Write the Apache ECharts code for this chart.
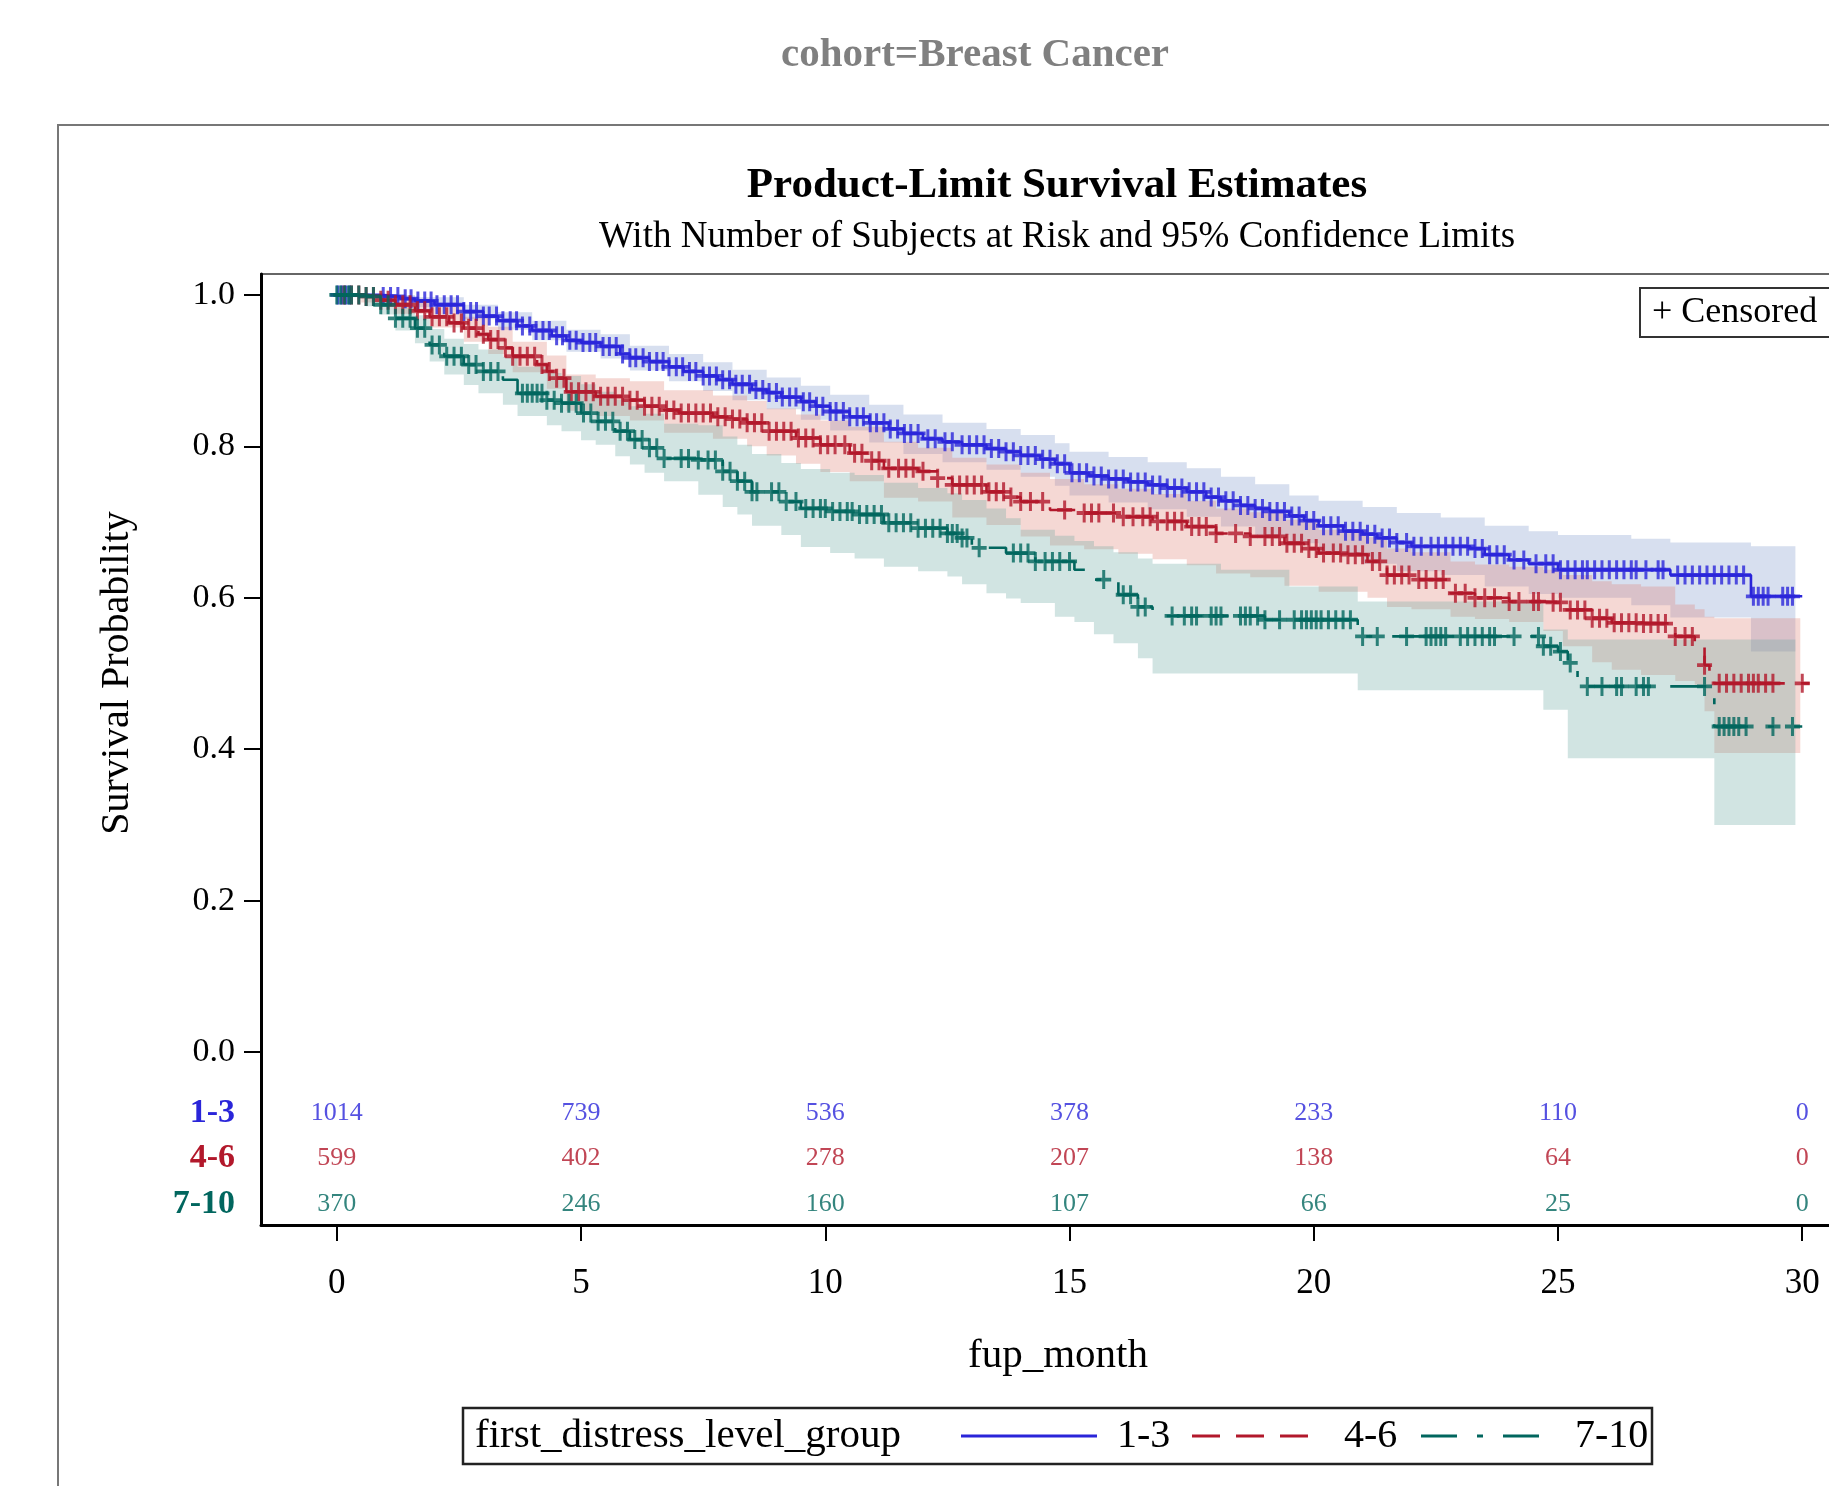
<!DOCTYPE html>
<html>
<head>
<meta charset="utf-8">
<title>Product-Limit Survival Estimates</title>
<script src="https://cdn.jsdelivr.net/npm/echarts@6/dist/echarts.min.js"></script>
<style>
  html, body { margin: 0; padding: 0; background: #fff; }
  #chart { width: 1829px; height: 1486px; }
</style>
</head>
<body>
<div id="chart"></div>
<script>
// groups and axis ticks
const groups = ['1-3', '4-6', '7-10']
const xTicks = [0, 5, 10, 15, 20, 25, 30]
const yTicks = [0, 0.2, 0.4, 0.6, 0.8, 1.0]

// number of subjects at risk at each x tick
const atRisk13 = [1014, 739, 536, 378, 233, 110, 0]
const atRisk46 = [599, 402, 278, 207, 138, 64, 0]
const atRisk710 = [370, 246, 160, 107, 66, 25, 0]

// product-limit estimates: [month, survival]
const surv13 = [
  [0, 1.0], [0.9, 0.998], [1.3, 0.995], [1.6, 0.992], [2.0, 0.987], [2.6, 0.978], [3.0, 0.972],
  [3.3, 0.966], [3.7, 0.959], [4.0, 0.953], [4.4, 0.946], [4.7, 0.94], [5.0, 0.937], [5.4, 0.932],
  [5.8, 0.922], [6.0, 0.917], [6.4, 0.912], [6.8, 0.905], [7.1, 0.899], [7.5, 0.893], [7.8, 0.888],
  [8.1, 0.882], [8.5, 0.875], [8.8, 0.871], [9.1, 0.865], [9.5, 0.859], [9.8, 0.853], [10.1, 0.846],
  [10.5, 0.839], [10.9, 0.831], [11.3, 0.823], [11.6, 0.817], [12.0, 0.81], [12.4, 0.806],
  [12.8, 0.802], [13.3, 0.797], [13.7, 0.793], [14.0, 0.788], [14.4, 0.783], [14.7, 0.777],
  [15.0, 0.765], [15.4, 0.761], [15.8, 0.757], [16.2, 0.753], [16.6, 0.749], [17.0, 0.745],
  [17.4, 0.74], [17.8, 0.733], [18.1, 0.728], [18.5, 0.722], [18.8, 0.718], [19.1, 0.714],
  [19.5, 0.708], [19.8, 0.702], [20.1, 0.695], [20.6, 0.688], [21.0, 0.684], [21.3, 0.679],
  [21.7, 0.673], [22.0, 0.668], [23.2, 0.665], [23.5, 0.657], [24.0, 0.65], [24.4, 0.645],
  [25.0, 0.637], [27.3, 0.63], [28.95, 0.602], [30.0, 0.602]
]
const surv46 = [
  [0, 1.0], [0.5, 0.998], [0.9, 0.993], [1.2, 0.987], [1.6, 0.979], [1.9, 0.971], [2.3, 0.963],
  [2.6, 0.956], [2.9, 0.948], [3.1, 0.941], [3.4, 0.93], [3.6, 0.919], [4.1, 0.908], [4.3, 0.899],
  [4.5, 0.89], [4.7, 0.872], [5.3, 0.866], [6.0, 0.861], [6.3, 0.853], [6.7, 0.848], [7.0, 0.844],
  [7.7, 0.839], [8.0, 0.836], [8.4, 0.831], [8.8, 0.82], [9.4, 0.811], [9.9, 0.802], [10.5, 0.791],
  [10.9, 0.781], [11.2, 0.771], [11.9, 0.767], [12.3, 0.758], [12.6, 0.749], [13.3, 0.74],
  [13.7, 0.733], [14.0, 0.727], [14.6, 0.716], [15.3, 0.712], [16.0, 0.707], [16.7, 0.701],
  [17.4, 0.694], [18.0, 0.685], [18.7, 0.681], [19.4, 0.672], [19.8, 0.665], [20.1, 0.659],
  [20.6, 0.657], [21.1, 0.648], [21.5, 0.63], [22.0, 0.624], [22.8, 0.606], [23.3, 0.6],
  [24.0, 0.595], [24.7, 0.594], [25.1, 0.584], [25.7, 0.573], [26.1, 0.567], [26.7, 0.566],
  [27.4, 0.549], [27.8, 0.542], [28.0, 0.511], [28.1, 0.503], [28.2, 0.487], [30.15, 0.487]
]
const surv710 = [
  [0, 1.0], [0.6, 0.998], [0.9, 0.987], [1.2, 0.969], [1.6, 0.956], [1.9, 0.934], [2.2, 0.919],
  [2.6, 0.908], [2.9, 0.899], [3.4, 0.888], [3.7, 0.87], [4.3, 0.861], [4.6, 0.857], [5.0, 0.844],
  [5.3, 0.833], [5.7, 0.82], [6.0, 0.809], [6.3, 0.798], [6.7, 0.784], [7.4, 0.782], [7.9, 0.767],
  [8.2, 0.754], [8.5, 0.74], [9.1, 0.727], [9.5, 0.718], [10.1, 0.714], [10.6, 0.71], [11.2, 0.699],
  [11.9, 0.692], [12.5, 0.685], [12.8, 0.679], [13.0, 0.666], [13.7, 0.659], [14.3, 0.648],
  [15.1, 0.637], [15.5, 0.624], [16.0, 0.604], [16.4, 0.588], [16.7, 0.576], [19.0, 0.571],
  [20.9, 0.549], [24.7, 0.536], [25.0, 0.529], [25.2, 0.514], [25.3, 0.505], [25.4, 0.483],
  [28.2, 0.43], [30.0, 0.43]
]

// 95% confidence limits: [month, lower, upper]
const band13 = [
  [0, 0.997, 1.0], [0.9, 0.993, 1.0], [1.6, 0.984, 0.997], [2.6, 0.968, 0.987], [3.3, 0.954, 0.977],
  [4.0, 0.94, 0.966], [4.7, 0.925, 0.954], [5.4, 0.916, 0.948], [6.0, 0.9, 0.933], [6.8, 0.886, 0.922],
  [7.5, 0.873, 0.911], [8.1, 0.861, 0.901], [8.8, 0.849, 0.891], [9.5, 0.835, 0.88], [10.1, 0.821, 0.868],
  [10.9, 0.805, 0.855], [11.6, 0.79, 0.842], [12.4, 0.779, 0.831], [13.3, 0.769, 0.823],
  [14.0, 0.76, 0.815], [14.7, 0.748, 0.804], [15.0, 0.735, 0.793], [15.8, 0.726, 0.786],
  [16.6, 0.717, 0.779], [17.4, 0.707, 0.771], [18.1, 0.694, 0.76], [18.8, 0.683, 0.75],
  [19.5, 0.672, 0.735], [20.1, 0.658, 0.728], [21.0, 0.645, 0.72], [21.7, 0.635, 0.712],
  [22.6, 0.63, 0.706], [23.5, 0.615, 0.695], [24.4, 0.605, 0.688], [25.0, 0.6, 0.683],
  [26.5, 0.59, 0.678], [27.3, 0.574, 0.673], [28.95, 0.529, 0.668], [29.86, 0.529, 0.668]
]
const band46 = [
  [0, 1.0, 1.0], [0.5, 0.99, 1.0], [1.2, 0.975, 0.995], [1.9, 0.957, 0.984], [2.6, 0.938, 0.971],
  [3.1, 0.922, 0.958], [3.6, 0.898, 0.938], [4.3, 0.876, 0.92], [4.7, 0.847, 0.895], [5.3, 0.84, 0.89],
  [6.0, 0.834, 0.886], [6.7, 0.818, 0.874], [7.7, 0.81, 0.867], [8.4, 0.8, 0.86], [8.8, 0.788, 0.85],
  [9.4, 0.777, 0.842], [9.9, 0.766, 0.834], [10.5, 0.754, 0.826], [11.2, 0.732, 0.806],
  [11.9, 0.727, 0.798], [12.6, 0.706, 0.785], [13.3, 0.696, 0.776], [14.0, 0.681, 0.765],
  [14.6, 0.669, 0.757], [15.3, 0.664, 0.75], [16.0, 0.658, 0.744], [16.7, 0.651, 0.737],
  [17.4, 0.643, 0.728], [18.0, 0.632, 0.718], [18.7, 0.627, 0.713], [19.4, 0.616, 0.703],
  [20.1, 0.608, 0.69], [21.1, 0.6, 0.68], [21.5, 0.588, 0.665], [22.0, 0.585, 0.66],
  [22.8, 0.575, 0.648], [23.3, 0.572, 0.644], [24.0, 0.568, 0.641], [24.7, 0.556, 0.637],
  [25.1, 0.536, 0.63], [25.7, 0.515, 0.622], [26.1, 0.505, 0.618], [26.7, 0.498, 0.615],
  [27.4, 0.49, 0.591], [27.8, 0.485, 0.585], [28.0, 0.45, 0.575], [28.2, 0.395, 0.573],
  [29.96, 0.395, 0.573]
]
const band710 = [
  [0, 1.0, 1.0], [0.6, 0.985, 1.0], [0.9, 0.974, 0.997], [1.2, 0.953, 0.985], [1.6, 0.936, 0.973],
  [1.9, 0.912, 0.955], [2.2, 0.895, 0.942], [2.6, 0.881, 0.935], [2.9, 0.87, 0.928], [3.4, 0.855, 0.918],
  [3.7, 0.84, 0.905], [4.3, 0.828, 0.897], [4.6, 0.82, 0.893], [5.0, 0.808, 0.882], [5.3, 0.802, 0.872],
  [5.7, 0.787, 0.862], [6.0, 0.776, 0.853], [6.3, 0.765, 0.843], [6.7, 0.754, 0.83], [7.4, 0.736, 0.828],
  [7.9, 0.72, 0.813], [8.2, 0.71, 0.802], [8.5, 0.695, 0.79], [9.1, 0.683, 0.778], [9.5, 0.667, 0.77],
  [10.1, 0.659, 0.765], [10.6, 0.652, 0.762], [11.2, 0.641, 0.752], [11.9, 0.635, 0.745],
  [12.5, 0.628, 0.738], [12.8, 0.618, 0.729], [13.3, 0.606, 0.718], [13.7, 0.599, 0.705],
  [14.0, 0.593, 0.69], [14.7, 0.575, 0.682], [15.1, 0.568, 0.675], [15.5, 0.552, 0.668],
  [15.9, 0.54, 0.66], [16.4, 0.52, 0.652], [16.7, 0.5, 0.645], [18.1, 0.5, 0.637], [19.5, 0.5, 0.615],
  [20.9, 0.478, 0.595], [24.7, 0.452, 0.558], [25.2, 0.388, 0.545], [28.2, 0.3, 0.545],
  [29.86, 0.3, 0.545]
]

// censoring times (months)
const cens13 = [
  0.02, 0.1, 0.18, 0.26, 0.95, 1.1, 1.25, 1.4, 1.52, 1.66, 1.8, 1.93, 2.05, 2.2, 2.34, 2.47, 2.6,
  2.74, 2.86, 3.0, 3.12, 3.27, 3.4, 3.55, 3.68, 3.8, 3.95, 4.08, 4.22, 4.35, 4.5, 4.62, 4.77, 4.9,
  5.04, 5.18, 5.3, 5.45, 5.58, 5.72, 5.85, 6.0, 6.12, 6.27, 6.4, 6.55, 6.68, 6.8, 6.95, 7.08, 7.22,
  7.35, 7.5, 7.63, 7.77, 7.9, 8.04, 8.17, 8.3, 8.45, 8.58, 8.72, 8.85, 9.0, 9.12, 9.27, 9.4, 9.55,
  9.68, 9.82, 9.95, 10.1, 10.22, 10.37, 10.5, 10.65, 10.78, 10.92, 11.05, 11.2, 11.33, 11.48,
  11.62, 11.75, 11.9, 12.1, 12.25, 12.45, 12.6, 12.8, 12.95, 13.1, 13.25, 13.4, 13.55, 13.7,
  13.85, 14.0, 14.15, 14.3, 14.45, 14.6, 14.75, 14.9, 15.05, 15.2, 15.35, 15.5, 15.65, 15.8,
  15.95, 16.1, 16.25, 16.4, 16.55, 16.7, 16.85, 17.0, 17.15, 17.3, 17.45, 17.6, 17.75, 17.9,
  18.05, 18.2, 18.35, 18.5, 18.65, 18.8, 18.95, 19.1, 19.25, 19.4, 19.55, 19.7, 19.85, 20.0,
  20.2, 20.35, 20.5, 20.65, 20.8, 20.95, 21.1, 21.25, 21.4, 21.55, 21.7, 21.9, 22.05, 22.2, 22.4,
  22.55, 22.7, 22.85, 23.0, 23.15, 23.3, 23.45, 23.6, 23.75, 23.9, 24.1, 24.3, 24.55, 24.75,
  24.9, 25.05, 25.2, 25.35, 25.5, 25.6, 25.75, 25.9, 26.05, 26.2, 26.35, 26.5, 26.6, 26.8, 27.05,
  27.15, 27.45, 27.6, 27.75, 27.9, 28.05, 28.2, 28.35, 28.5, 28.65, 28.8, 29.0, 29.1, 29.2, 29.3,
  29.6, 29.7, 29.8
]
const cens46 = [
  0.15, 0.3, 0.45, 0.6, 0.75, 0.9, 1.05, 1.2, 1.35, 1.5, 1.65, 1.8, 1.95, 2.1, 2.25, 2.4, 2.55,
  2.7, 2.85, 3.0, 3.15, 3.3, 3.45, 3.6, 3.75, 3.9, 4.05, 4.2, 4.35, 4.5, 4.65, 4.8, 4.95, 5.1,
  5.25, 5.4, 5.55, 5.7, 5.85, 6.0, 6.15, 6.3, 6.45, 6.6, 6.75, 6.9, 7.05, 7.2, 7.35, 7.5, 7.65,
  7.8, 7.95, 8.1, 8.25, 8.4, 8.55, 8.7, 8.85, 9.0, 9.15, 9.3, 9.45, 9.6, 9.75, 9.9, 10.05, 10.2,
  10.4, 10.6, 10.75, 10.95, 11.1, 11.3, 11.5, 11.65, 11.8, 12.0, 12.3, 12.6, 12.75, 12.9, 13.05,
  13.2, 13.35, 13.5, 13.65, 13.8, 14.0, 14.2, 14.45, 14.9, 15.3, 15.45, 15.6, 15.9, 16.1, 16.3,
  16.5, 16.65, 16.8, 17.0, 17.15, 17.3, 17.5, 17.65, 17.8, 18.0, 18.4, 18.7, 19.0, 19.15, 19.3,
  19.45, 19.6, 19.75, 19.9, 20.05, 20.2, 20.4, 20.55, 20.7, 20.85, 21.0, 21.2, 21.35, 21.5,
  21.65, 21.8, 21.95, 22.15, 22.3, 22.5, 22.65, 22.9, 23.1, 23.3, 23.5, 23.7, 24.0, 24.2, 24.5,
  24.6, 24.9, 25.05, 25.25, 25.4, 25.55, 25.7, 25.85, 26.0, 26.15, 26.3, 26.45, 26.6, 26.75,
  26.9, 27.05, 27.2, 27.4, 27.6, 27.75, 28.0, 28.3, 28.45, 28.6, 28.75, 28.9, 29.0, 29.1, 29.25,
  29.4, 30.0
]
const cens710 = [
  0.0, 0.08, 0.16, 0.24, 0.3, 0.45, 0.6, 0.75, 0.9, 1.05, 1.2, 1.35, 1.5, 1.65, 1.8, 1.95, 2.1,
  2.25, 2.4, 2.55, 2.7, 2.85, 3.0, 3.15, 3.3, 3.8, 3.9, 4.0, 4.1, 4.2, 4.3, 4.45, 4.6, 4.75, 4.9,
  5.05, 5.2, 5.35, 5.5, 5.65, 5.8, 5.95, 6.1, 6.25, 6.4, 6.55, 6.7, 7.05, 7.2, 7.4, 7.6, 7.75,
  7.9, 8.05, 8.2, 8.35, 8.5, 8.6, 8.9, 9.05, 9.2, 9.4, 9.6, 9.75, 9.9, 10.0, 10.15, 10.3, 10.45,
  10.55, 10.7, 10.85, 11.0, 11.15, 11.3, 11.45, 11.6, 11.75, 11.9, 12.05, 12.2, 12.35, 12.5,
  12.6, 12.7, 12.8, 12.9, 13.15, 13.85, 14.0, 14.15, 14.3, 14.5, 14.65, 14.8, 15.0, 15.7, 16.1,
  16.25, 16.4, 16.55, 17.1, 17.35, 17.5, 17.6, 17.9, 18.0, 18.1, 18.5, 18.6, 18.7, 18.85, 19.0,
  19.3, 19.6, 19.75, 19.85, 19.95, 20.05, 20.15, 20.3, 20.45, 20.6, 20.75, 21.0, 21.3, 21.9,
  22.3, 22.4, 22.5, 22.6, 22.7, 23.0, 23.15, 23.3, 23.45, 23.6, 23.7, 24.1, 24.6, 24.7, 24.85,
  25.05, 25.25, 25.6, 25.9, 26.2, 26.3, 26.6, 26.75, 26.85, 28.0, 28.3, 28.4, 28.5, 28.6, 28.7,
  28.85, 29.4, 29.8
]

const lineColors = ['#2A25D9', '#B2182B', '#01665E']
const bandColors = ['rgba(124,149,202,0.3)', 'rgba(222,126,111,0.3)', 'rgba(102,165,160,0.3)']
const dashes = ['solid', [28, 16], [36, 20, 6, 20]]
const riskRowY = [-0.0806, -0.1406, -0.2006]
const serif = '"Liberation Serif", "Times New Roman", serif'
const plusMark = 'path://M-2,-10H2V-2H10V2H2V10H-2V2H-10V-2H-2Z'

const curves = [surv13, surv46, surv710]
const bands = [band13, band46, band710]
const censored = [cens13, cens46, cens710]
const atRisk = [atRisk13, atRisk46, atRisk710]

function survAt(curve, t) {
  let s = curve[0][1]
  for (let i = 0; i < curve.length; i++) {
    if (curve[i][0] <= t) s = curve[i][1]
  }
  return s
}

function bandSeries(rows, color) {
  return {
    type: 'custom',
    silent: true,
    z: 1,
    data: rows,
    encode: { x: 0, y: [1, 2] },
    renderItem: function (params, api) {
      if (params.dataIndex !== 0) return null
      let pts = []
      for (let i = 0; i < rows.length - 1; i++) {
        pts.push(api.coord([rows[i][0], rows[i][2]]))
        pts.push(api.coord([rows[i + 1][0], rows[i][2]]))
      }
      for (let i = rows.length - 2; i >= 0; i--) {
        pts.push(api.coord([rows[i + 1][0], rows[i][1]]))
        pts.push(api.coord([rows[i][0], rows[i][1]]))
      }
      return { type: 'polygon', shape: { points: pts }, style: { fill: color, stroke: null } }
    }
  }
}

let series = []
for (let g = 0; g < 3; g++) {
  series.push(bandSeries(bands[g], bandColors[g]))
}
for (let g = 0; g < 3; g++) {
  series.push({
    name: groups[g],
    type: 'line',
    step: 'end',
    z: 3,
    symbol: 'none',
    data: curves[g],
    lineStyle: { color: lineColors[g], width: 2.6, type: dashes[g] },
    silent: true
  })
}
for (let g = 0; g < 3; g++) {
  series.push({
    name: 'censored ' + groups[g],
    type: 'scatter',
    z: 4,
    symbol: plusMark,
    symbolSize: [15, 19],
    itemStyle: { color: lineColors[g] },
    data: censored[g].map(t => [t, survAt(curves[g], t)]),
    silent: true
  })
}
for (let g = 0; g < 3; g++) {
  series.push({
    name: 'at risk ' + groups[g],
    type: 'scatter',
    symbolSize: 1,
    itemStyle: { color: 'transparent' },
    data: xTicks.map((x, i) => [x, riskRowY[g], atRisk[g][i]]),
    label: {
      show: true,
      position: 'inside',
      formatter: p => String(p.value[2]),
      color: lineColors[g],
      fontSize: 26,
      fontFamily: serif
    },
    silent: true
  })
}

let rich = {}
for (let g = 0; g < 3; g++) {
  rich['g' + g] = { color: lineColors[g], fontSize: 34, fontWeight: 'bold', fontFamily: serif }
}

const statCharts = echarts.init(document.getElementById('chart'))
statCharts.setOption({
  animation: false,
  backgroundColor: '#fff',
  grid: {
    left: 261,
    top: 274,
    width: 1594,
    bottom: 261,
    outerBoundsMode: 'none',
    containLabel: false,
    show: true,
    borderColor: '#666',
    borderWidth: 2
  },
  xAxis: {
    type: 'value',
    min: -1.552,
    max: 31.08,
    name: 'fup_month',
    nameLocation: 'middle',
    nameGap: 111,
    nameTextStyle: { fontSize: 41, fontFamily: serif, color: '#000' },
    axisLine: { onZero: false, lineStyle: { color: '#000', width: 3 } },
    axisTick: { customValues: xTicks, length: 16, lineStyle: { color: '#000', width: 2 } },
    axisLabel: { customValues: xTicks, margin: 41, fontSize: 35, fontFamily: serif, color: '#000' },
    splitLine: { show: false }
  },
  yAxis: {
    type: 'value',
    min: -0.2283,
    max: 1.0276,
    axisLine: { onZero: false, lineStyle: { color: '#000', width: 3 } },
    axisTick: { customValues: yTicks, length: 17, lineStyle: { color: '#000', width: 2 } },
    axisLabel: {
      customValues: yTicks.concat(riskRowY),
      margin: 26,
      fontSize: 34,
      fontFamily: serif,
      color: '#000',
      rich: rich,
      formatter: function (v) {
        for (let i = 0; i < riskRowY.length; i++) {
          if (Math.abs(v - riskRowY[i]) < 1e-6) return '{g' + i + '|' + groups[i] + '}'
        }
        return v.toFixed(1)
      }
    },
    splitLine: { show: false }
  },
  graphic: [
    { type: 'rect', z: -1, shape: { x: 58, y: 125, width: 1900, height: 1500 }, style: { fill: null, stroke: '#777', lineWidth: 2 } },
    { type: 'text', x: 975, y: 55, style: { text: 'cohort=Breast Cancer', font: 'bold 41px ' + serif, fill: '#808080', align: 'center', verticalAlign: 'middle', textAlign: 'center', textVerticalAlign: 'middle' } },
    { type: 'text', x: 1057, y: 186, style: { text: 'Product-Limit Survival Estimates', font: 'bold 43px ' + serif, fill: '#000', align: 'center', verticalAlign: 'middle', textAlign: 'center', textVerticalAlign: 'middle' } },
    { type: 'text', x: 1057, y: 237, style: { text: 'With Number of Subjects at Risk and 95% Confidence Limits', font: '37px ' + serif, fill: '#000', align: 'center', verticalAlign: 'middle', textAlign: 'center', textVerticalAlign: 'middle' } },
    { type: 'text', x: 117, y: 673, rotation: Math.PI / 2, style: { text: 'Survival Probability', font: '40px ' + serif, fill: '#000', align: 'center', verticalAlign: 'middle', textAlign: 'center', textVerticalAlign: 'middle' } },
    // censored legend
    { type: 'rect', shape: { x: 1640, y: 288, width: 300, height: 49 }, style: { fill: '#fff', stroke: '#333', lineWidth: 2 }, z: 10 },
    { type: 'text', x: 1652, y: 313, z: 11, style: { text: '+ Censored', font: '36px ' + serif, fill: '#000', align: 'left', verticalAlign: 'middle', textAlign: 'left', textVerticalAlign: 'middle' } },
    // group legend
    { type: 'rect', shape: { x: 463, y: 1408, width: 1189, height: 56 }, style: { fill: '#fff', stroke: '#222', lineWidth: 2.5 } },
    { type: 'text', x: 475, y: 1436, style: { text: 'first_distress_level_group', font: '41px ' + serif, fill: '#000', align: 'left', verticalAlign: 'middle', textAlign: 'left', textVerticalAlign: 'middle' } },
    { type: 'line', shape: { x1: 961, y1: 1436, x2: 1097, y2: 1436 }, style: { stroke: lineColors[0], lineWidth: 3 } },
    { type: 'text', x: 1117, y: 1436, style: { text: groups[0], font: '40px ' + serif, fill: '#000', align: 'left', verticalAlign: 'middle', textAlign: 'left', textVerticalAlign: 'middle' } },
    { type: 'line', shape: { x1: 1192, y1: 1436, x2: 1318, y2: 1436 }, style: { stroke: lineColors[1], lineWidth: 3, lineDash: dashes[1] } },
    { type: 'text', x: 1344, y: 1436, style: { text: groups[1], font: '40px ' + serif, fill: '#000', align: 'left', verticalAlign: 'middle', textAlign: 'left', textVerticalAlign: 'middle' } },
    { type: 'line', shape: { x1: 1421, y1: 1436, x2: 1555, y2: 1436 }, style: { stroke: lineColors[2], lineWidth: 3, lineDash: dashes[2] } },
    { type: 'text', x: 1575, y: 1436, style: { text: groups[2], font: '40px ' + serif, fill: '#000', align: 'left', verticalAlign: 'middle', textAlign: 'left', textVerticalAlign: 'middle' } }
  ],
  series: series
})
</script>
</body>
</html>
